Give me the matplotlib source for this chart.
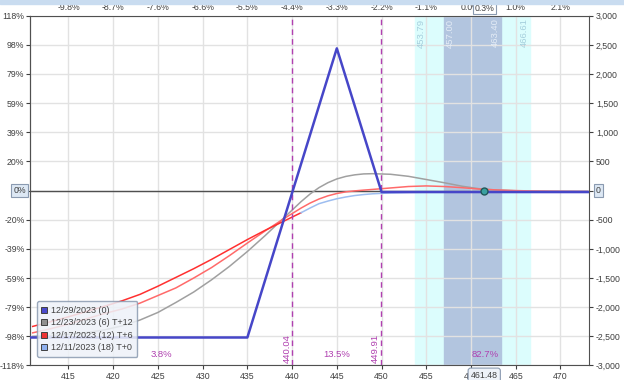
import matplotlib.pyplot as plt
from matplotlib.patches import Rectangle
from matplotlib.lines import Line2D

# price grid the curves were read at
x_pts = [411, 413, 415, 417, 419, 421, 423, 425, 427, 429, 431, 433, 435, 437, 439,
         441, 442, 443, 444, 445, 446, 447, 448, 449, 451, 453, 455, 457, 459, 461,
         463, 465, 467, 469, 471, 473]

# P&L curves (dollars)
pl_t12 = [-2500, -2485, -2465, -2435, -2390, -2320, -2220, -2090, -1920, -1740, -1530,
          -1300, -1045, -770, -480, -190, -60, 50, 135, 200, 243, 270, 286, 290, 280,
          245, 190, 135, 75, 30, 8, -3, -9, -12, -14, -15]
pl_t6 = [-2440, -2370, -2290, -2200, -2110, -2030, -1930, -1800, -1670, -1500, -1320,
         -1115, -900, -690, -490, -300, -215, -145, -90, -50, -22, -5, 8, 20, 45, 70,
         80, 70, 50, 25, 10, 0, -7, -11, -13, -15]
pl_t0 = [-2330, -2250, -2165, -2075, -1985, -1890, -1780, -1640, -1490, -1340, -1180,
         -1010, -840, -680, -530, -380, -300, -225, -180, -140, -110, -85, -68, -55,
         -40, -32, -27, -24, -22, -20, -19, -18, -17, -17, -16, -16]

# expiration payoff
exp_x = [410.7, 435, 445, 450, 473.2]
exp_pl = [-2520, -2520, 2440, -25, -25]

breakevens = [440.04, 449.91]
region_probs = ['3.8%', '13.5%', '82.7%']
price = 461.48
band_outer = (453.79, 466.61)
band_inner = (457.00, 463.40)

x_ticks = [415, 420, 425, 430, 435, 440, 445, 450, 455, 460, 465, 470]
top_labels = ['-9.8%', '-8.7%', '-7.6%', '-6.6%', '-5.5%', '-4.4%', '-3.3%', '-2.2%',
              '-1.1%', '0.0%', '1.0%', '2.1%']
y_ticks = [3000, 2500, 2000, 1500, 1000, 500, 0, -500, -1000, -1500, -2000, -2500, -3000]
left_labels = ['118%', '98%', '79%', '59%', '39%', '20%', '0%', '-20%', '-39%', '-59%',
               '-79%', '-98%', '-118%']
legend_labels = ['12/29/2023 (0)', '12/23/2023 (6) T+12', '12/17/2023 (12) T+6',
                 '12/11/2023 (18) T+0']

txt = '#404040'
purple = '#b040b0'
fs = 6.3
plt.rcParams['font.family'] = ['Liberation Sans', 'DejaVu Sans']

fig = plt.figure(figsize=(6.24, 3.80), dpi=100)
fig.patches.append(Rectangle((0, 0.99), 1, 0.01, transform=fig.transFigure,
                             color='#c9dcf0', zorder=0))
ax = fig.add_axes([0.0481, 0.0382, 0.8959, 0.9205])
ax.set_xlim(410.7, 473.2)
ax.set_ylim(-3000, 3000)

# bands
ax.axvspan(*band_outer, color='#dcfdfd', zorder=0)
ax.axvspan(*band_inner, color='#b2c5df', zorder=0.5)
ax.grid(True, color='#e2e2e2', lw=1, zorder=1)
ax.set_axisbelow(True)

for v, ha, c in [(band_outer[0], 'left', '#a6cfdd'), (band_inner[0], 'left', '#e4ecf6'),
                 (band_inner[1], 'right', '#e4ecf6'), (band_outer[1], 'right', '#a6cfdd')]:
    off = 0.15 if ha == 'left' else -0.15
    ax.text(v + off, 2950, f'{v:.2f}', rotation=90, ha=ha, va='top',
            fontsize=fs + 0.5, color=c, zorder=2)

ax.axhline(0, color='#505050', lw=1, zorder=2)

# curves
ax.plot(x_pts, pl_t12, color='#a0a0a0', lw=1.1, zorder=3)
ax.plot(x_pts, pl_t6, color='#ff6a6a', lw=1.1, zorder=3)
split = x_pts.index(441) + 1
ax.plot(x_pts[:split], pl_t0[:split], color='#ff3030', lw=1.1, zorder=3)
ax.plot(x_pts[split - 1:], pl_t0[split - 1:], color='#9dbdf0', lw=1.1, zorder=3)
ax.plot(exp_x, exp_pl, color='#4646c8', lw=1.8, zorder=4)

for b in breakevens:
    ax.axvline(b, color=purple, ls=(0, (4, 3)), lw=1, zorder=3)
    ax.text(b - 0.12, -2960, f'{b:.2f}', rotation=90, ha='right', va='bottom',
            fontsize=fs + 0.5, color=purple, zorder=5)

xl = ax.get_xlim()
bounds = [xl[0]] + breakevens + [xl[1]]
for i, p in enumerate(region_probs):
    ax.text((bounds[i] + bounds[i + 1]) / 2, -2820, p, ha='center', va='center',
            fontsize=fs + 0.5, color=purple, zorder=5)

ax.plot([price], [0], 'o', ms=5, mfc='#3aa0a0', mec='#205858', mew=1, zorder=6)

# axes styling
for s in ax.spines.values():
    s.set_color('#505050')
ax.set_xticks(x_ticks)
ax.set_xticklabels([str(t) for t in x_ticks])
ax.set_yticks(y_ticks)
ax.set_yticklabels([f'{t:,}' for t in y_ticks])
ax.yaxis.tick_right()
ax.tick_params(axis='both', labelsize=fs, colors=txt, length=3, width=0.8, pad=2)

secy = ax.secondary_yaxis('left')
secy.set_yticks(y_ticks)
secy.set_yticklabels(left_labels)
secy.tick_params(labelsize=fs, colors=txt, length=3, width=0.8, pad=1)
secy.spines['left'].set_color('#505050')

secx = ax.secondary_xaxis('top')
secx.set_xticks(x_ticks)
secx.set_xticklabels(top_labels)
secx.tick_params(labelsize=fs, colors=txt, length=0, pad=3)
secx.spines['top'].set_visible(False)

ax.annotate(f'{price:.2f}', xy=(price, 0), xycoords=('data', 'axes fraction'),
            xytext=(0, -7), textcoords='offset points', ha='center', va='center',
            fontsize=fs, color=txt, bbox=dict(boxstyle='round,pad=0.3', fc='#eef2f8',
                                              ec='#8a9ab0', lw=0.8), zorder=10,
            annotation_clip=False)
ax.annotate('0.3%', xy=(price, 1), xycoords=('data', 'axes fraction'),
            xytext=(0, 5.5), textcoords='offset points', ha='center', va='center',
            fontsize=fs, color=txt, bbox=dict(boxstyle='square,pad=0.2', fc='white',
                                              ec='#8a9ab0', lw=0.8), zorder=10,
            annotation_clip=False)
ax.annotate('0', xy=(1, 0), xycoords=('axes fraction', 'data'), xytext=(5, 0),
            textcoords='offset points', ha='left', va='center', fontsize=fs, color=txt,
            bbox=dict(boxstyle='square,pad=0.25', fc='#dde8f4', ec='#8a9ab0', lw=0.8),
            zorder=10, annotation_clip=False)
ax.annotate('0%', xy=(0, 0), xycoords=('axes fraction', 'data'), xytext=(-3, 0),
            textcoords='offset points', ha='right', va='center', fontsize=fs, color=txt,
            bbox=dict(boxstyle='square,pad=0.25', fc='#dde8f4', ec='#8a9ab0', lw=0.8),
            zorder=10, annotation_clip=False)

handles = [Line2D([], [], ls='', marker='s', ms=5, mfc=c, mec='#404040', mew=0.7)
           for c in ['#4a4acc', '#909090', '#ee3333', '#8fb0ee']]
leg = ax.legend(handles, legend_labels, loc='lower left', bbox_to_anchor=(0.004, 0.012),
                fontsize=fs + 0.2, frameon=True, fancybox=True, handlelength=0.7,
                handletextpad=0.4, labelspacing=0.38, borderpad=0.5, labelcolor=txt)
leg.get_frame().set_facecolor('#eef2f8')
leg.get_frame().set_edgecolor('#8a9ab0')
leg.get_frame().set_alpha(0.85)
leg.set_zorder(8)

fig.savefig('out.png', dpi=100)
